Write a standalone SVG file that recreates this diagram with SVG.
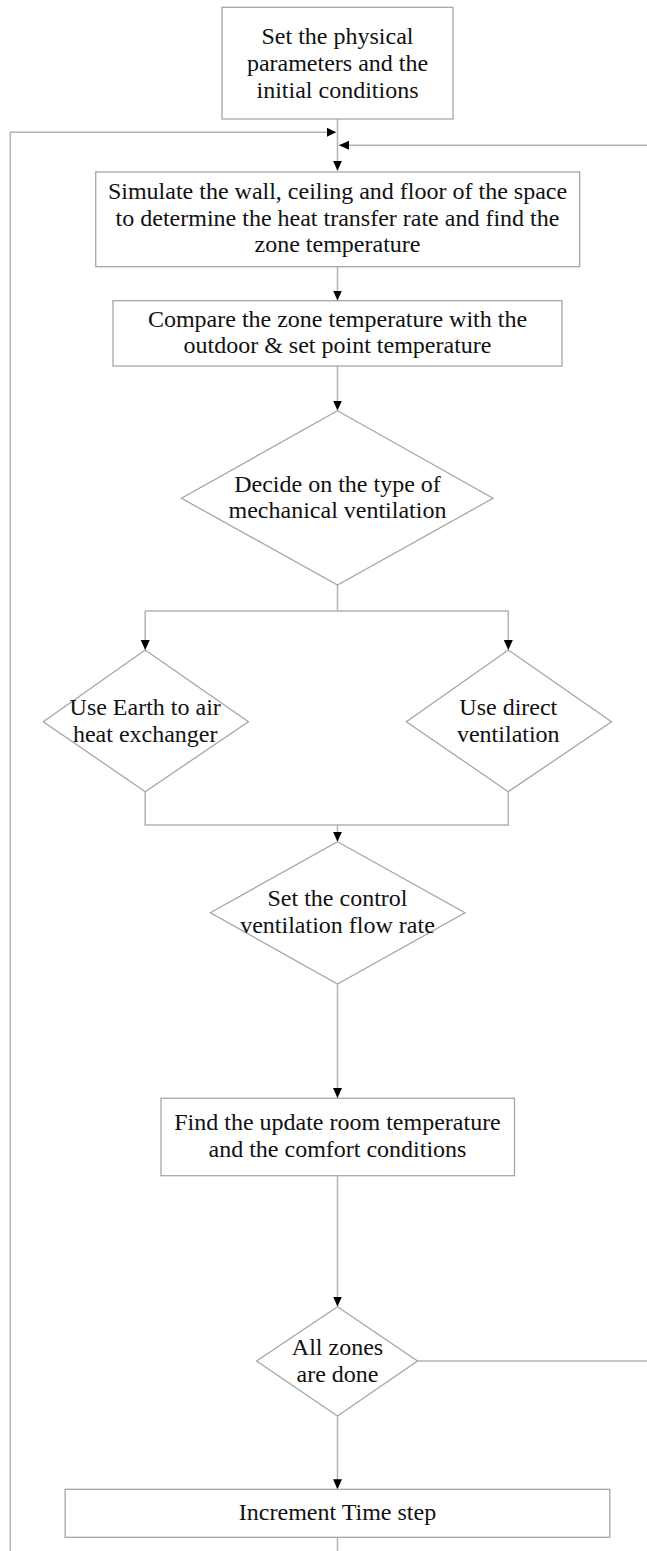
<svg xmlns="http://www.w3.org/2000/svg" width="647" height="1551" viewBox="0 0 647 1551">
<style>
.box{fill:#fff;stroke:#a6a6a6;stroke-width:1.3}
.ln{fill:none;stroke:#b3b3b3;stroke-width:1.5}
text{font-family:"Liberation Serif","Times New Roman",serif;font-size:24px;fill:#111;text-anchor:middle}
</style>
<defs>
<marker id="ah" markerUnits="userSpaceOnUse" markerWidth="10" markerHeight="10" viewBox="0 0 10 10" refX="10" refY="5" orient="auto">
<path d="M0,0.5 L10,5 L0,9.5 Z" fill="#000"/>
</marker>
</defs>
<g id="connectors">
<path class="ln" d="M337.5,119 V170.7" marker-end="url(#ah)"/>
<path class="ln" d="M10.3,1551 V132.3 H336"/>
<path d="M327,127.8 L336,132.3 L327,136.8 Z" fill="#000"/>
<path class="ln" d="M647,1361 M647,145.3 H339" marker-end="url(#ah)"/>
<path class="ln" d="M337.5,266.7 V300.5" marker-end="url(#ah)"/>
<path class="ln" d="M337.5,366 V410.5" marker-end="url(#ah)"/>
<path class="ln" d="M337.5,585 V611 M145.2,611 H508.3"/>
<path class="ln" d="M145.2,611 V650" marker-end="url(#ah)"/>
<path class="ln" d="M508.3,611 V650" marker-end="url(#ah)"/>
<path class="ln" d="M145.2,791.7 V825 H508.3 V791.7"/>
<path class="ln" d="M337.5,825 V841.7" marker-end="url(#ah)"/>
<path class="ln" d="M337.5,984 V1098" marker-end="url(#ah)"/>
<path class="ln" d="M337.5,1175.7 V1306.5" marker-end="url(#ah)"/>
<path class="ln" d="M417.5,1361 H647"/>
<path class="ln" d="M337.5,1416 V1489.3" marker-end="url(#ah)"/>
<path class="ln" d="M337.5,1537.3 V1551"/>
</g>
<g id="n1">
<rect class="box" x="222" y="7.3" width="231" height="111.7"/>
<text x="337.5" y="44.3">Set the physical</text>
<text x="337.5" y="71">parameters and the</text>
<text x="337.5" y="97.7">initial conditions</text>
</g>
<g id="n2">
<rect class="box" x="95.7" y="172" width="484" height="94.7"/>
<text x="337.5" y="199">Simulate the wall, ceiling and floor of the space</text>
<text x="337.5" y="225.7">to determine the heat transfer rate and find the</text>
<text x="337.5" y="252.3">zone temperature</text>
</g>
<g id="n3">
<rect class="box" x="113" y="300.7" width="449" height="65.3"/>
<text x="337.5" y="326.7">Compare the zone temperature with the</text>
<text x="337.5" y="353.3">outdoor &amp; set point temperature</text>
</g>
<g id="n4">
<polygon class="box" points="337.5,410.7 493,498.3 337.5,585 181.5,498.3"/>
<text x="337.5" y="491.7">Decide on the type of</text>
<text x="337.5" y="518.3">mechanical ventilation</text>
</g>
<g id="n5">
<polygon class="box" points="145.2,650 248.4,721.7 145.2,791.7 43.3,721.7"/>
<text x="145.2" y="715">Use Earth to air</text>
<text x="145.2" y="741.7">heat exchanger</text>
</g>
<g id="n6">
<polygon class="box" points="508.3,650 611.5,721.7 508.3,791.7 406.4,721.7"/>
<text x="508.3" y="715">Use direct</text>
<text x="508.3" y="741.7">ventilation</text>
</g>
<g id="n7">
<polygon class="box" points="337.5,841.7 465,912.7 337.5,984 210.4,912.7"/>
<text x="337.5" y="906.3">Set the control</text>
<text x="337.5" y="933">ventilation flow rate</text>
</g>
<g id="n8">
<rect class="box" x="161" y="1098.3" width="353.5" height="77.4"/>
<text x="337.5" y="1130">Find the update room temperature</text>
<text x="337.5" y="1157.3">and the comfort conditions</text>
</g>
<g id="n9">
<polygon class="box" points="337.5,1306.7 417.5,1361 337.5,1416 256.6,1361"/>
<text x="337.5" y="1355">All zones</text>
<text x="337.5" y="1381.7">are done</text>
</g>
<g id="n10">
<rect class="box" x="65.2" y="1489.3" width="544.6" height="48"/>
<text x="337.5" y="1520">Increment Time step</text>
</g>
</svg>
